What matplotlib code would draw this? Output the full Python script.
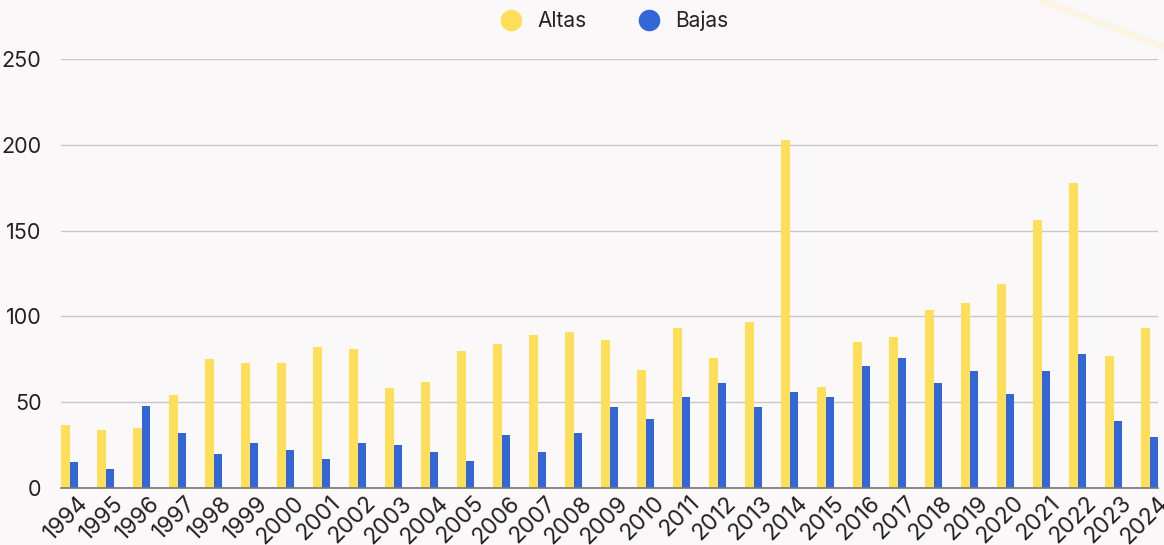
import matplotlib
matplotlib.use("Agg")
import matplotlib.pyplot as plt
from matplotlib.lines import Line2D
import numpy as np

years = [str(y) for y in range(1994, 2025)]
altas = [37, 34, 35, 54, 75, 73, 73, 82, 81, 58, 62, 80, 84, 89, 91, 86, 69, 93, 76, 97,
         203, 59, 85, 88, 104, 108, 119, 156, 178, 77, 93]
bajas = [15, 11, 48, 32, 20, 26, 22, 17, 26, 25, 21, 16, 31, 21, 32, 47, 40, 53, 61, 47,
         56, 53, 71, 76, 61, 68, 55, 68, 78, 39, 30]
yticks = [0, 50, 100, 150, 200, 250]

YELLOW = "#FFDE59"
BLUE = "#3366D6"
BG = "#FAF8F9"

plt.rcParams['font.family'] = ['Inter', 'DejaVu Sans']

W, H = 1164, 545
fig = plt.figure(figsize=(W / 100, H / 100), dpi=100, facecolor=BG)
ax = fig.add_axes([61 / W, 57 / H, (1158 - 61) / W, (488 - 59) / H])
ax.set_facecolor(BG)

x = np.arange(len(years))
w = 8.5 / 36
ax.bar(x - w, altas, width=w, align='edge', color=YELLOW, zorder=3)
ax.bar(x, bajas, width=w, align='edge', color=BLUE, zorder=3)

ax.set_xlim(-w, len(years) - 1 + w)
ax.set_ylim(0, 250)
ax.set_yticks(yticks)
ax.set_yticklabels([str(v) for v in yticks], fontsize=15.5, color="#222222")
ax.set_xticks(x + 0.2)
ax.set_xticklabels(years, rotation=45, ha='right', rotation_mode='anchor',
                   fontsize=16.5, color="#222222")
ax.tick_params(axis='both', length=0)
ax.tick_params(axis='y', pad=14)
ax.tick_params(axis='x', pad=3)
ax.grid(axis='y', color="#C8C8C8", linewidth=1, zorder=0)
ax.set_axisbelow(True)
for s in ['top', 'right', 'left']:
    ax.spines[s].set_visible(False)
ax.spines['bottom'].set_color("#777777")
ax.spines['bottom'].set_linewidth(1.2)
ax.spines['bottom'].set_zorder(4)

handles = [Line2D([], [], marker='o', linestyle='none', markersize=14.5,
                  markerfacecolor=YELLOW, markeredgecolor=YELLOW, label='Altas'),
           Line2D([], [], marker='o', linestyle='none', markersize=14.5,
                  markerfacecolor=BLUE, markeredgecolor=BLUE, label='Bajas')]
fig.legend(handles=handles, loc='center', bbox_to_anchor=(609 / W, 1 - 21 / H),
           ncol=2, frameon=False, fontsize=15, handletextpad=0.25,
           columnspacing=2.0, labelcolor="#222222")

# decorative diagonal stroke in top-right corner
fig.add_artist(Line2D([1040 / W, 1164 / W], [1.0, 1 - 47 / H], transform=fig.transFigure,
                      color="#FBF3E3", linewidth=5, solid_capstyle='butt', zorder=0))

fig.savefig("out.png", dpi=100, facecolor=BG)
